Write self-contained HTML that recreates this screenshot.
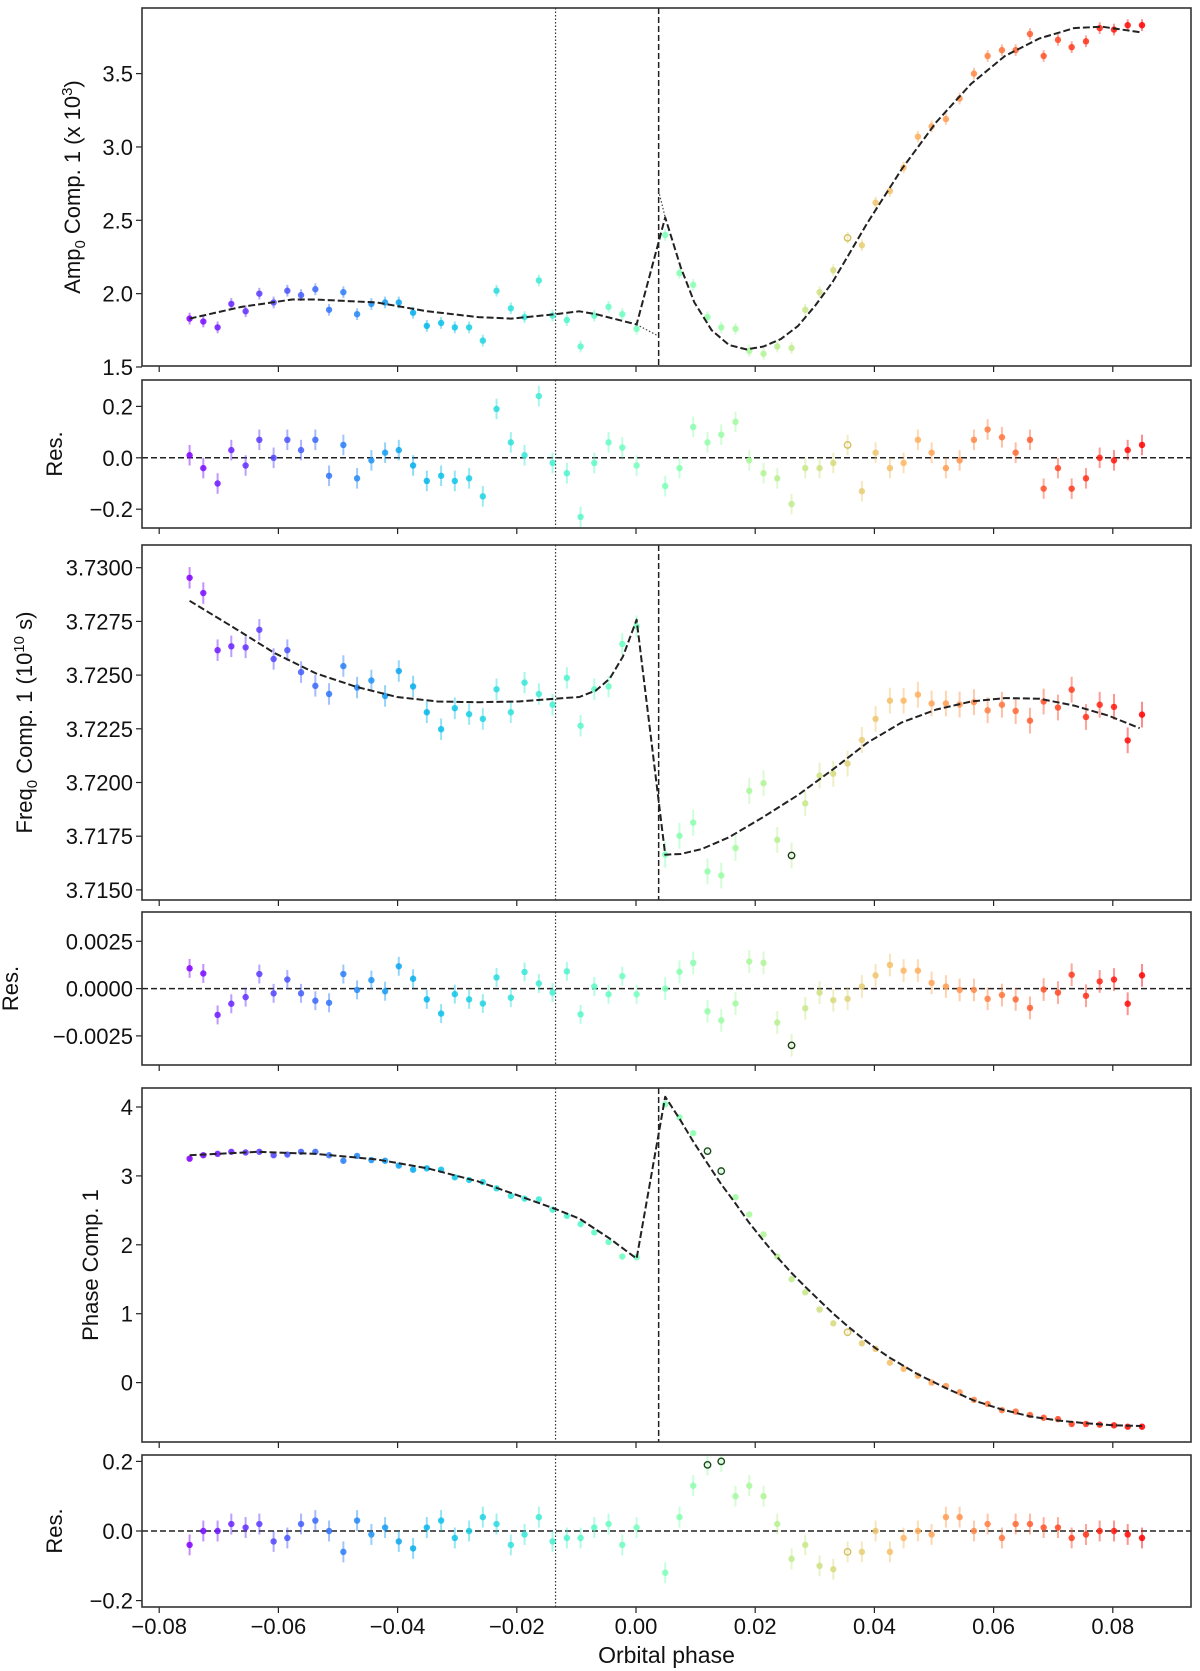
<!DOCTYPE html>
<html><head><meta charset="utf-8"><style>
html,body{margin:0;padding:0;background:#fff;}
svg{display:block;font-family:"Liberation Sans",sans-serif;}
</style></head><body>
<svg id="chart" width="1200" height="1671" viewBox="0 0 1200 1671" xmlns="http://www.w3.org/2000/svg"></svg>
<script>
// ---- data ----
const phasesPre = [-0.0749,-0.0726,-0.0702,-0.0679,-0.0655,-0.0632,-0.0608,-0.0585,-0.0562,-0.0538,-0.0515,-0.0491,-0.0468,-0.0444,-0.0421,-0.0398,-0.0374,-0.0351,-0.0327,-0.0304,-0.0280,-0.0257,-0.0234,-0.0210,-0.0187,-0.0163,-0.0140,-0.0116,-0.0093,-0.0070,-0.0046,-0.0023,0.0001];
const phasesPost = [0.0049,0.0073,0.0096,0.0120,0.0143,0.0167,0.0190,0.0214,0.0237,0.0261,0.0284,0.0308,0.0331,0.0355,0.0379,0.0402,0.0426,0.0449,0.0473,0.0496,0.0520,0.0543,0.0567,0.0590,0.0614,0.0637,0.0661,0.0684,0.0708,0.0731,0.0755,0.0778,0.0802,0.0825,0.0849];

const ampPre = [1.83,1.81,1.77,1.93,1.88,2.00,1.94,2.02,1.99,2.03,1.89,2.01,1.86,1.93,1.94,1.94,1.87,1.78,1.80,1.77,1.77,1.68,2.02,1.90,1.84,2.09,1.85,1.82,1.64,1.85,1.91,1.86,1.76];
const ampPost = [2.40,2.14,2.06,1.84,1.77,1.76,1.61,1.59,1.64,1.63,1.89,2.01,2.16,2.38,2.33,2.62,2.70,2.86,3.07,3.14,3.19,3.33,3.50,3.62,3.66,3.66,3.77,3.62,3.73,3.68,3.72,3.81,3.80,3.83,3.83];
const ampResPre = [0.01,-0.04,-0.10,0.03,-0.03,0.07,0.00,0.07,0.03,0.07,-0.07,0.05,-0.08,-0.01,0.02,0.03,-0.03,-0.09,-0.07,-0.09,-0.08,-0.15,0.19,0.06,0.01,0.24,-0.02,-0.06,-0.23,-0.02,0.06,0.04,-0.03];
const ampResPost = [-0.11,-0.04,0.12,0.06,0.09,0.14,-0.01,-0.06,-0.08,-0.18,-0.04,-0.04,-0.02,0.05,-0.13,0.02,-0.04,-0.02,0.07,0.02,-0.04,-0.01,0.07,0.11,0.08,0.02,0.07,-0.12,-0.04,-0.12,-0.08,0.00,-0.01,0.03,0.05];
const ampModelX = [-0.0749,-0.0662,-0.0577,-0.0537,-0.0435,-0.0350,-0.0265,-0.0209,-0.0135,-0.0095,-0.0067,0.0001,0.0049,0.0075,0.0098,0.0127,0.0156,0.0185,0.0214,0.0243,0.0272,0.0301,0.0330,0.0388,0.0446,0.0504,0.0562,0.0619,0.0677,0.0735,0.0782,0.0849];
const ampModelY = [1.83,1.91,1.96,1.96,1.94,1.88,1.84,1.83,1.86,1.88,1.86,1.79,2.52,2.18,1.94,1.75,1.65,1.62,1.64,1.69,1.78,1.92,2.08,2.48,2.85,3.17,3.43,3.62,3.74,3.81,3.82,3.78];
const ampDotX = [0.0001,0.0038,0.0038,0.0049];
const ampDotY = [1.79,1.71,2.70,2.52];

const freqPre = [3.72953,3.72882,3.72616,3.72634,3.72629,3.72711,3.72575,3.72616,3.72514,3.72450,3.72412,3.72542,3.72442,3.72475,3.72403,3.72519,3.72447,3.72327,3.72248,3.72346,3.72318,3.72296,3.72434,3.72327,3.72465,3.72412,3.72362,3.72487,3.72264,3.72434,3.72447,3.72645,3.72728];
const freqPost = [3.71664,3.71752,3.71813,3.71586,3.71567,3.71695,3.71961,3.71997,3.71733,3.71660,3.71903,3.72032,3.72041,3.72088,3.72198,3.72296,3.72381,3.72381,3.72409,3.72368,3.72368,3.72363,3.72374,3.72336,3.72362,3.72333,3.72288,3.72377,3.72349,3.72432,3.72305,3.72362,3.72352,3.72196,3.72316];
const freqResPre = [0.00107,0.00080,-0.00139,-0.00080,-0.00045,0.00077,-0.00025,0.00048,-0.00025,-0.00064,-0.00075,0.00077,-0.00007,0.00045,-0.00014,0.00118,0.00052,-0.00057,-0.00132,-0.00029,-0.00057,-0.00079,0.00059,-0.00048,0.00088,0.00027,-0.00021,0.00091,-0.00136,0.00011,-0.00030,0.00066,-0.00030];
const freqResPost = [0.00000,0.00089,0.00136,-0.00120,-0.00168,-0.00079,0.00143,0.00136,-0.00179,-0.00300,-0.00104,-0.00021,-0.00061,-0.00054,0.00011,0.00070,0.00125,0.00095,0.00095,0.00030,0.00011,-0.00007,-0.00007,-0.00054,-0.00034,-0.00057,-0.00102,-0.00005,-0.00021,0.00073,-0.00038,0.00038,0.00048,-0.00080,0.00070];
const freqModelX = [-0.0749,-0.0679,-0.0606,-0.0537,-0.0469,-0.0401,-0.0333,-0.0265,-0.0197,-0.0135,-0.0095,-0.0067,-0.0044,-0.0022,0.0001,0.0049,0.0075,0.0110,0.0156,0.0214,0.0272,0.0330,0.0388,0.0446,0.0504,0.0562,0.0619,0.0677,0.0735,0.0793,0.0845];
const freqModelY = [3.72846,3.72728,3.72602,3.72508,3.72445,3.72398,3.72377,3.72374,3.72377,3.72390,3.72398,3.72429,3.72484,3.72586,3.72758,3.71664,3.71667,3.71690,3.71745,3.71840,3.71942,3.72060,3.72185,3.72280,3.72340,3.72377,3.72393,3.72390,3.72358,3.72311,3.72253];

const phasePre = [3.25,3.30,3.32,3.35,3.34,3.35,3.30,3.31,3.35,3.35,3.30,3.22,3.29,3.23,3.22,3.15,3.09,3.11,3.09,2.98,2.94,2.91,2.82,2.71,2.67,2.66,2.51,2.42,2.30,2.18,2.04,1.83,1.82];
const phasePost = [4.04,3.85,3.62,3.36,3.07,2.69,2.44,2.15,1.83,1.50,1.31,1.06,0.86,0.73,0.57,0.49,0.29,0.20,0.10,0.00,-0.05,-0.14,-0.25,-0.31,-0.40,-0.42,-0.47,-0.51,-0.53,-0.60,-0.60,-0.61,-0.62,-0.64,-0.64];
const phaseResPre = [-0.04,0.00,0.00,0.02,0.01,0.02,-0.03,-0.02,0.02,0.03,0.00,-0.06,0.03,-0.01,0.01,-0.03,-0.05,0.01,0.03,-0.02,0.00,0.04,0.02,-0.04,-0.01,0.04,-0.03,-0.02,-0.02,0.01,0.02,-0.04,0.01];
const phaseResPost = [-0.12,0.04,0.13,0.19,0.20,0.10,0.13,0.10,0.02,-0.08,-0.04,-0.10,-0.11,-0.06,-0.06,0.00,-0.06,-0.02,0.00,-0.01,0.04,0.04,0.00,0.02,-0.02,0.02,0.02,0.01,0.01,-0.02,-0.01,0.00,0.00,-0.01,-0.02];
const phaseModelX = [-0.0749,-0.0634,-0.0537,-0.0435,-0.0350,-0.0265,-0.0209,-0.0135,-0.0095,-0.0044,0.0001,0.0049,0.0073,0.0096,0.0120,0.0143,0.0167,0.0190,0.0214,0.0237,0.0261,0.0284,0.0308,0.0331,0.0355,0.0379,0.0402,0.0426,0.0473,0.0520,0.0567,0.0614,0.0661,0.0708,0.0755,0.0802,0.0849];
const phaseModelY = [3.30,3.35,3.32,3.24,3.11,2.92,2.75,2.52,2.38,2.09,1.80,4.15,3.83,3.50,3.18,2.88,2.60,2.32,2.06,1.82,1.59,1.39,1.19,1.00,0.82,0.65,0.50,0.36,0.12,-0.08,-0.26,-0.39,-0.49,-0.55,-0.59,-0.62,-0.63];

const ampErr = [0.04,0.04];
const ampResErr = [0.04,0.04];
const freqErr = [0.0005,0.0006];
const freqResErr = [0.0005,0.0006];
const phaseErr = [0.03,0.03];
const phaseResErr = [0.03,0.03];

const xTicks = [-0.08,-0.06,-0.04,-0.02,0.00,0.02,0.04,0.06,0.08];
const xTickLabels = ["−0.08","−0.06","−0.04","−0.02","0.00","0.02","0.04","0.06","0.08"];
const ampTicks = [1.5,2.0,2.5,3.0,3.5];
const resTicks = [-0.2,0.0,0.2];
const freqTicks = [3.7150,3.7175,3.7200,3.7225,3.7250,3.7275,3.7300];
const freqResTicks = [-0.0025,0.0,0.0025];
const phaseTicks = [0,1,2,3,4];
const vDotted = -0.0135, vDashed = 0.0038;

const NS = "http://www.w3.org/2000/svg";
const svg = document.getElementById('chart');
const X0 = 142, X1 = 1191;
const xs = v => 636 + v * 5960;
function el(tag, attrs, parent){ const e=document.createElementNS(NS,tag); for(const k in attrs) e.setAttribute(k,attrs[k]); (parent||svg).appendChild(e); return e; }
function rainbow(t){ const r=Math.min(1,Math.abs(2*t-0.5)), g=Math.sin(Math.PI*t), b=Math.cos(Math.PI*t/2);
  return `rgb(${Math.round(r*255)},${Math.round(g*255)},${Math.round(b*255)})`; }
const fmt = (v,d)=> (v<0?"−":"")+Math.abs(v).toFixed(d);

const panels = [
 {name:'amp', top:8, bot:366, y:v=>73.6+(3.5-v)*146.7, ticks:ampTicks, dec:1, pre:ampPre, post:ampPost, err:ampErr, mx:ampModelX, my:ampModelY, hollow:{46:'#d4c060'}, labelX:80, label:'amp'},
 {name:'amp-res', top:380, bot:528, y:v=>457.8-v*257, ticks:resTicks, dec:1, pre:ampResPre, post:ampResPost, err:ampResErr, zero:true, hollow:{46:'#d4c060'}, labelX:62, label:'res'},
 {name:'freq', top:545, bot:900, y:v=>567.7+(3.73-v)/0.0025*53.7, ticks:freqTicks, dec:4, pre:freqPre, post:freqPost, err:freqErr, mx:freqModelX, my:freqModelY, hollow:{42:'#1a3a1a'}, labelX:32, label:'freq'},
 {name:'freq-res', top:912, bot:1065, y:v=>988.6-v/0.0025*47.3, ticks:freqResTicks, dec:4, pre:freqResPre, post:freqResPost, err:freqResErr, zero:true, hollow:{42:'#1a3a1a'}, labelX:18, label:'res'},
 {name:'phase', top:1088, bot:1442, y:v=>1107+(4-v)*68.9, ticks:phaseTicks, dec:0, pre:phasePre, post:phasePost, err:phaseErr, mx:phaseModelX, my:phaseModelY, hollow:{36:'#1a4a1a',37:'#1a4a1a',46:'#d4c060'}, labelX:98, label:'phase'},
 {name:'phase-res', top:1455, bot:1607, y:v=>1531-v/0.2*69.6, ticks:resTicks, dec:1, pre:phaseResPre, post:phaseResPost, err:phaseResErr, zero:true, hollow:{36:'#1a4a1a',37:'#1a4a1a',46:'#d4c060'}, labelX:62, label:'res'}
];

panels.forEach((p,pi)=>{
  const g = el('g',{});
  
  
  const clipId='clip'+pi;
  const cp=el('clipPath',{id:clipId},g); el('rect',{x:X0,y:p.top,width:X1-X0,height:p.bot-p.top},cp);
  p.ticks.forEach(t=>{
    const y=p.y(t);
    el('line',{x1:X0-6,x2:X0,y1:y,y2:y,stroke:'#222','stroke-width':1.2},g);
    const tx=el('text',{x:X0-9,y:y+8,'text-anchor':'end','font-size':22,fill:'#111'},g);
    tx.textContent = p.dec===0 ? String(t) : fmt(t,p.dec);
    
    
  });
  xTicks.forEach(t=>{ el('line',{x1:xs(t),x2:xs(t),y1:p.bot,y2:p.bot+6,stroke:'#222','stroke-width':1.2},g); });
  const inner = el('g',{'clip-path':`url(#${clipId})`},g);
  const vd=el('line',{x1:xs(vDotted),x2:xs(vDotted),y1:p.top,y2:p.bot,stroke:'#333','stroke-width':1.2,'stroke-dasharray':'1.5,2'},inner);
   
  if(!p.zero){
    const vh=el('line',{x1:xs(vDashed),x2:xs(vDashed),y1:p.top,y2:p.bot,stroke:'#222','stroke-width':1.5,'stroke-dasharray':'6,3'},inner);
     
  }
  if(p.zero){
    const z=el('line',{x1:X0,x2:X1,y1:p.y(0),y2:p.y(0),stroke:'#222','stroke-width':1.5,'stroke-dasharray':'6,3'},inner);
     
  }
  const all = phasesPre.map((x,i)=>({x, v:p.pre[i], e:p.err[0]})).concat(phasesPost.map((x,i)=>({x, v:p.post[i], e:p.err[1]})));
  const N = all.length;
  all.forEach((d,k)=>{
    const c = rainbow(k/(N-1));
    const cx=xs(d.x), cy=p.y(d.v);
    const eb=el('line',{x1:cx,x2:cx,y1:p.y(d.v+d.e),y2:p.y(d.v-d.e),stroke:c,'stroke-width':2,'stroke-opacity':0.45},inner);
     
    const edge = p.hollow[k];
    const m=el('circle',{cx:cx,cy:cy,r:3.2,fill:edge?'none':c,'fill-opacity':0.85,stroke:edge||'none','stroke-width':1.4},inner);
     
  });
  if(p.mx){
    const pts=p.mx.map((x,i)=>`${xs(x).toFixed(1)},${p.y(p.my[i]).toFixed(1)}`).join(' ');
    const pl=el('polyline',{points:pts,fill:'none',stroke:'#222','stroke-width':2,'stroke-dasharray':'7,3','stroke-linejoin':'round'},inner);
     
  }
  if(p.name==='amp'){
    const d1=`${xs(ampDotX[0])},${p.y(ampDotY[0])} ${xs(ampDotX[1])},${p.y(ampDotY[1])}`;
    const d2=`${xs(ampDotX[2])},${p.y(ampDotY[2])} ${xs(ampDotX[3])},${p.y(ampDotY[3])}`;
    [d1,d2].forEach(s=>{ const l=el('polyline',{points:s,fill:'none',stroke:'#444','stroke-width':1.2,'stroke-dasharray':'1.5,2'},inner);
        });
  }
  el('rect',{x:X0,y:p.top,width:X1-X0,height:p.bot-p.top,fill:'none',stroke:'#333','stroke-width':1.6},g);
  const cy=(p.top+p.bot)/2;
  const lab=el('text',{x:p.labelX,y:cy,'text-anchor':'middle','font-size':22,fill:'#111',transform:`rotate(-90 ${p.labelX} ${cy})`},g);
  
  
  if(p.label==='amp') lab.innerHTML='Amp<tspan font-size="15" dy="5">0</tspan><tspan dy="-5"> Comp. 1 (x 10</tspan><tspan font-size="15" dy="-8">3</tspan><tspan dy="8">)</tspan>';
  else if(p.label==='freq') lab.innerHTML='Freq<tspan font-size="15" dy="5">0</tspan><tspan dy="-5"> Comp. 1 (10</tspan><tspan font-size="15" dy="-8">10</tspan><tspan dy="8"> s)</tspan>';
  else if(p.label==='phase') lab.textContent='Phase Comp. 1';
  else lab.textContent='Res.';
});
xTicks.forEach((t,i)=>{
  const tx=el('text',{x:xs(t),y:1634,'text-anchor':'middle','font-size':22,fill:'#111'});
  tx.textContent=xTickLabels[i];
  
  
});
const xl=el('text',{x:(X0+X1)/2,y:1663,'text-anchor':'middle','font-size':23,fill:'#111'});
xl.textContent='Orbital phase';


</script>
</body></html>
